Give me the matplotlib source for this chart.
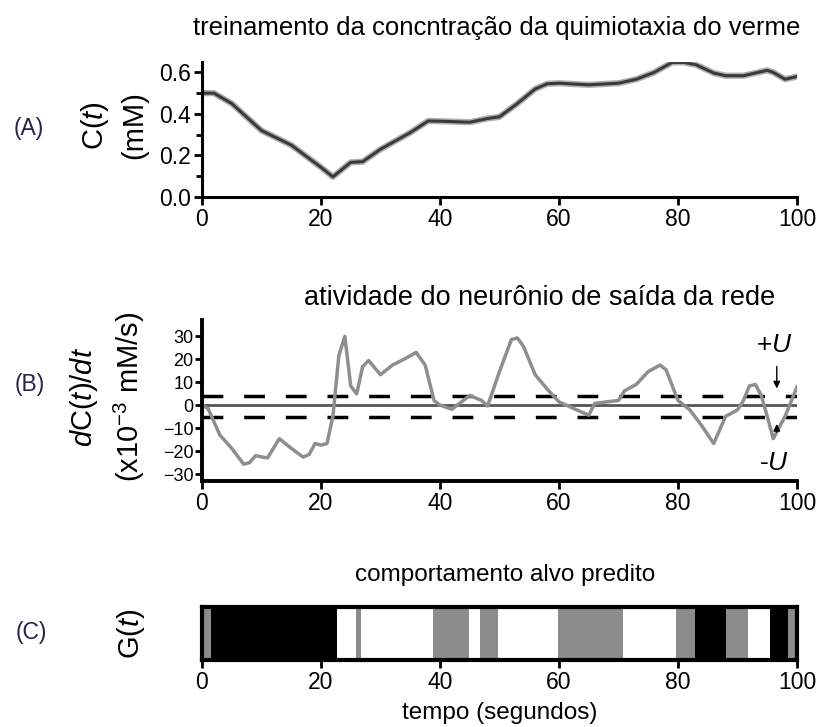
import numpy as np
import matplotlib
matplotlib.use("Agg")
import matplotlib.pyplot as plt

plt.rcParams['font.family'] = ['Liberation Sans', 'DejaVu Sans']
plt.rcParams['mathtext.fontset'] = 'custom'
plt.rcParams['mathtext.rm'] = 'Liberation Sans'
plt.rcParams['mathtext.it'] = 'Liberation Sans:italic'

# (A) concentration C(t) in mM
t_conc = [0, 2, 5, 10, 15, 20, 22, 25, 27, 30, 35, 38, 40, 45, 48, 50, 53, 56, 58,
          60, 65, 70, 73, 76, 79, 81, 83, 86, 88, 91, 95, 96, 98, 100]
conc = [0.50, 0.50, 0.45, 0.32, 0.25, 0.143, 0.097, 0.167, 0.17, 0.23, 0.31, 0.366,
        0.365, 0.36, 0.378, 0.386, 0.45, 0.52, 0.545, 0.548, 0.54, 0.548, 0.567,
        0.60, 0.648, 0.648, 0.637, 0.597, 0.584, 0.584, 0.61, 0.60, 0.567, 0.58]

# (B) derivative dC/dt (x10^-3 mM/s)
t_deriv = [0, 1, 3, 5, 7, 8, 9, 11, 13, 15, 17, 18, 19, 20, 21, 22, 23, 24, 25, 26,
           27, 28, 30, 32, 34, 36, 37.5, 39, 40, 42, 45, 47, 48, 50, 52, 53, 54, 56,
           58, 60, 63, 65, 66, 68, 70, 71, 73, 75, 77, 78, 80, 82, 84, 86, 88, 90,
           91, 92, 93, 94, 95, 96, 98, 100]
deriv = [0, -1.4, -13, -18.8, -25.7, -25, -22, -23, -14.6, -18.8, -22.6, -21.5, -16.7,
         -17.4, -16.7, -4.9, 21.5, 29.9, 8.3, 4.9, 16.7, 19.4, 13.2, 17.4, 20, 22.9,
         17.4, 2, 0, -1.8, 4.2, 2, -0.4, 14.6, 28.5, 29.2, 25.7, 13.2, 7, 1.4, -2.1,
         -4.4, 0.7, 1.4, 2, 6.2, 9, 14.6, 17.4, 15.3, 2, -2.1, -9, -16.7, -4.9, -2.1,
         2, 8.3, 9, 4.2, -4.9, -14.6, -4.9, 7.9]
u_plus = 4
u_minus = -5

# (C) predicted behaviour G(t)
g_start = [0, 1.5, 22.7, 25.8, 26.8, 38.8, 44.8, 46.8, 49.7, 59.8, 70.7, 79.7,
           82.8, 88.0, 91.7, 95.5, 98.5]
g_end = g_start[1:] + [100]
g_state = ['gray', 'black', 'white', 'gray', 'white', 'gray', 'white', 'gray',
           'white', 'gray', 'white', 'gray', 'black', 'gray', 'white', 'black', 'gray']

xticks = [0, 20, 40, 60, 80, 100]

fig = plt.figure(figsize=(8.24, 7.27), dpi=100)
W, H = 824, 727

def box(left, top, right, bottom):
    return [left / W, 1 - bottom / H, (right - left) / W, (bottom - top) / H]

label_color = '#22224a'

# ---- panel A
axA = fig.add_axes(box(202, 62, 797, 197))
axA.plot(t_conc, conc, color='#b0b0b0', lw=4.5, solid_capstyle='round')
axA.plot(t_conc, conc, color='#3a3a3a', lw=2.2)
axA.set_xlim(0, 100)
axA.set_ylim(0, 0.65)
axA.set_xticks(xticks)
axA.set_yticks([0.0, 0.2, 0.4, 0.6])
axA.set_yticklabels(['0.0', '0.2', '0.4', '0.6'])
axA.set_yticks([0.1, 0.3, 0.5], minor=True)
axA.tick_params(labelsize=16.5, width=2, length=6, pad=2)
axA.tick_params(which='minor', width=2, length=4)
for s in ['top', 'right']:
    axA.spines[s].set_visible(False)
for s in ['left', 'bottom']:
    axA.spines[s].set_linewidth(2.2)
axA.set_ylabel('C($t$)\n(mM)', fontsize=21, linespacing=1.45)
axA.yaxis.set_label_coords(-0.09, 0.53)
fig.text(497 / W, 1 - 28 / H, 'treinamento da concntração da quimiotaxia do verme',
         ha='center', va='center', fontsize=18.5)
fig.text(29 / W, 1 - 128 / H, '(A)', ha='center', va='center', fontsize=16.5, color=label_color)

# ---- panel B
axB = fig.add_axes(box(202, 320, 797, 481))
axB.axhline(0, color='#555555', lw=2)
axB.axhline(u_plus, color='black', lw=2.5, dashes=(6, 6))
axB.axhline(u_minus, color='black', lw=2.5, dashes=(6, 6))
axB.plot(t_deriv, deriv, color='#8e8e8e', lw=2.5)
axB.set_xlim(0, 100)
axB.set_ylim(-33, 37)
axB.set_xticks(xticks)
axB.set_yticks([-30, -20, -10, 0, 10, 20, 30])
axB.tick_params(axis='x', labelsize=16.5, width=2, length=6, pad=2)
axB.tick_params(axis='y', labelsize=13, width=2, length=5, pad=1)
for s in ['top', 'right']:
    axB.spines[s].set_visible(False)
for s in ['left', 'bottom']:
    axB.spines[s].set_linewidth(2.8)
axB.set_ylabel('$d$C($t$)/$dt$\n(x10$^{-3}$ mM/s)', fontsize=21, linespacing=1.45)
axB.yaxis.set_label_coords(-0.092, 0.52)
axB.text(96.2, 26, '+$U$', ha='center', va='center', fontsize=19)
axB.text(96.2, -25, '-$U$', ha='center', va='center', fontsize=19)
axB.annotate('', xy=(96.6, 6), xytext=(96.6, 18),
             arrowprops=dict(arrowstyle='-|>', color='black', lw=1, mutation_scale=10))
axB.annotate('', xy=(96.6, -7), xytext=(96.6, -13),
             arrowprops=dict(arrowstyle='-|>', color='black', lw=1, mutation_scale=10))
fig.text(540 / W, 1 - 298 / H, 'atividade do neurônio de saída da rede',
         ha='center', va='center', fontsize=19.5)
fig.text(30 / W, 1 - 385 / H, '(B)', ha='center', va='center', fontsize=16.5, color=label_color)

# ---- panel C
cmap = {'black': 'black', 'gray': '#8c8c8c', 'white': 'white'}
axC = fig.add_axes(box(202, 607, 797, 660))
widths = [e - s for s, e in zip(g_start, g_end)]
axC.barh(0.5, widths, left=g_start, height=1, color=[cmap[g] for g in g_state], lw=0)
axC.set_xlim(0, 100)
axC.set_ylim(0, 1)
axC.set_xticks(xticks)
axC.set_yticks([])
axC.tick_params(axis='x', labelsize=16.5, width=2, length=6, pad=2)
for s in axC.spines.values():
    s.set_linewidth(3)
axC.set_ylabel('G($t$)', fontsize=21)
axC.yaxis.set_label_coords(-0.092, 0.5)
axC.set_xlabel('tempo (segundos)', fontsize=17.5, labelpad=6)
fig.text(505 / W, 1 - 575 / H, 'comportamento alvo predito',
         ha='center', va='center', fontsize=17.5)
fig.text(31 / W, 1 - 633 / H, '(C)', ha='center', va='center', fontsize=16.5, color=label_color)

fig.savefig('out.png', dpi=100)
